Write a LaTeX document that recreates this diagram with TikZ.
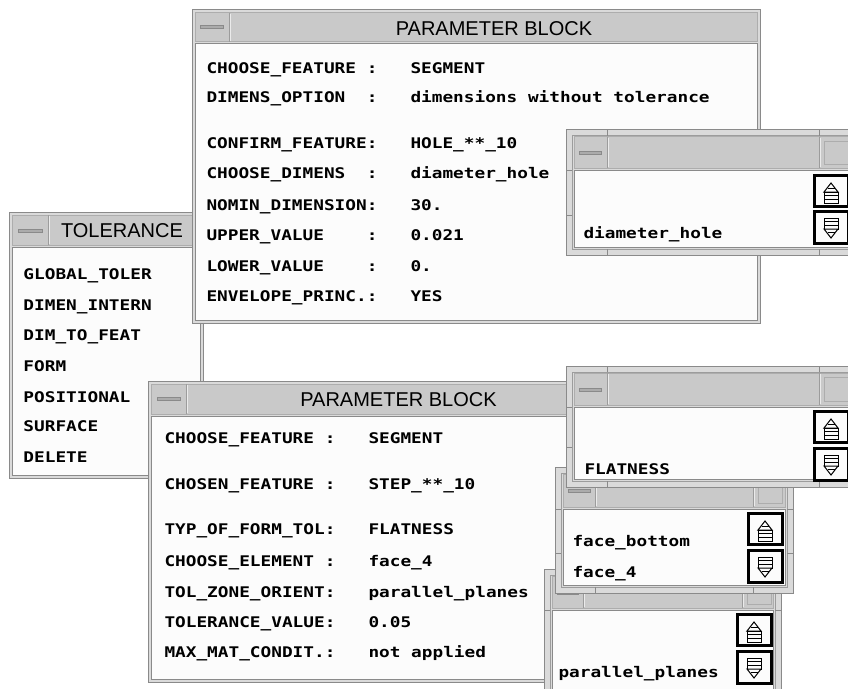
\documentclass[tikz,border=0pt]{standalone}
\usepackage{fontspec}
\setmainfont{Liberation Sans}
\newfontfamily\pixfont{DejaVu Sans Mono}[FakeStretch=1.21]

\definecolor{wingray}{RGB}{201,201,201}
\definecolor{winlight}{RGB}{218,218,218}
\definecolor{windark}{RGB}{138,138,138}
\definecolor{panewhite}{RGB}{252,252,252}

\tikzset{every picture/.style={line width=0.75pt}}
\tikzset{
  winframe/.style={draw=windark, fill=winlight},
  titlebar/.style={draw=windark!70, fill=wingray},
  pane/.style={draw=windark, fill=panewhite},
  bevel/.style={draw=windark!85},
  hilite/.style={draw=white!92!black},
  notch/.style={draw=windark},
  minbar/.style={draw=windark, fill=wingray!85!black},
  wintitle/.style={font=\fontsize{15}{18}\selectfont, text height=10.7pt, text depth=0pt, inner sep=0pt},
  pixtext/.style={font=\pixfont\bfseries\fontsize{11}{13}\selectfont, anchor=west, text height=8pt, text depth=0pt, inner sep=0pt},
  scrollbox/.style={draw=black, line width=2.25pt, fill=panewhite},
  glyph/.style={draw=black, fill=panewhite},
  % pics come out with y upwards, so the y values are negative
  scrollup/.pic={
    \draw[scrollbox] (1.5,-1.5) rectangle (35.5,-32.5);
    \draw[glyph] (11,-18) -- (18,-9) -- (25,-18) -- cycle;
    \draw[glyph] (11,-18) rectangle (25,-29);
    \draw[glyph] (14.5,-14.5) -- (21.5,-14.5) (11,-21.5) -- (25,-21.5) (11,-25) -- (25,-25);
  },
  scrolldown/.pic={
    \draw[scrollbox] (1.5,-1.5) rectangle (35.5,-33.5);
    \draw[glyph] (11,-8) rectangle (25,-19);
    \draw[glyph] (11,-19) -- (18,-28) -- (25,-19) -- cycle;
    \draw[glyph] (11,-11.5) -- (25,-11.5) (11,-15) -- (25,-15) (14.5,-22.5) -- (21.5,-22.5);
  }
}

\begin{document}
\begin{tikzpicture}[x=0.75pt,y=0.75pt,yscale=-1,xscale=1]
\useasboundingbox (0,0) rectangle (848,688);
\clip (0,0) rectangle (848,688);
\fill[white] (0,0) rectangle (848,688);

% Window: TOLERANCE
\draw[winframe] (9,212) rectangle (203,478);
\draw[titlebar] (12,215) rectangle (200,245);
\draw[pane] (12,247) rectangle (200,475);
\draw[bevel] (48,215) -- (48,245);
\draw[hilite] (49,216) -- (49,244);
\draw[minbar] (18,229) rectangle (42,232);
% Text Node
\node[wintitle] (toltitle) at (122,230.5) {TOLERANCE};
\node[pixtext] (tolglobal) at (23,274) {GLOBAL\_TOLER};
\node[pixtext] (toldimen) at (23,305) {DIMEN\_INTERN};
\node[pixtext] (toldimfeat) at (23,335) {DIM\_TO\_FEAT};
\node[pixtext] (tolform) at (23,366) {FORM};
\node[pixtext] (tolpos) at (23,397) {POSITIONAL};
\node[pixtext] (tolsurf) at (23,426) {SURFACE};
\node[pixtext] (toldel) at (23,457) {DELETE};

% Window: PARAMETER BLOCK (dimension)
\draw[winframe] (192,10) rectangle (760,323);
\draw[titlebar] (195,13) rectangle (757,42);
\draw[pane] (195,44) rectangle (757,320);
\draw[bevel] (229,13) -- (229,42);
\draw[hilite] (230,14) -- (230,41);
\draw[minbar] (200,26) rectangle (223,29);
% Text Node
\node[wintitle] (dimtitle) at (494,28.3) {PARAMETER BLOCK};
\node[pixtext] (dimfeat) at (206,68) {CHOOSE\_FEATURE :};
\node[pixtext] (dimopt) at (206,97) {DIMENS\_OPTION\ \ :};
\node[pixtext] (dimconf) at (206,143) {CONFIRM\_FEATURE:};
\node[pixtext] (dimchoose) at (206,173) {CHOOSE\_DIMENS\ \ :};
\node[pixtext] (dimnomin) at (206,205) {NOMIN\_DIMENSION:};
\node[pixtext] (dimupper) at (206,235) {UPPER\_VALUE\ \ \ \ :};
\node[pixtext] (dimlower) at (206,266) {LOWER\_VALUE\ \ \ \ :};
\node[pixtext] (dimenv) at (206,296) {ENVELOPE\_PRINC.:};
\node[pixtext] (dimfeatv) at (410,68) {SEGMENT};
\node[pixtext] (dimoptv) at (410,97) {dimensions without tolerance};
\node[pixtext] (dimconfv) at (410,143) {HOLE\_**\_10};
\node[pixtext] (dimchoosev) at (410,173) {diameter\_hole};
\node[pixtext] (dimnominv) at (410,205) {30.};
\node[pixtext] (dimupperv) at (410,235) {0.021};
\node[pixtext] (dimlowerv) at (410,266) {0.};
\node[pixtext] (dimenvv) at (410,296) {YES};

% Window: list diameter_hole
\draw[winframe] (566,130) rectangle (859,255);
\draw[bevel] (572,136) rectangle (853,249);
\draw[titlebar] (574,137) rectangle (851,168);
\draw[pane] (574,170) rectangle (851,247);
\draw[bevel] (607,137) -- (607,168) (819,137) -- (819,168);
\draw[hilite] (608,138) -- (608,167) (820,138) -- (820,167);
\draw[titlebar] (824,141) rectangle (848,164);
\draw[minbar] (579,151) rectangle (601,154);
\draw[notch] (607,130) -- (607,136) (607,249) -- (607,255) (819,130) -- (819,136) (819,249) -- (819,255) (566,170) -- (572,170) (566,215) -- (572,215);
% Text Node
\node[pixtext] (diamitem) at (583,233) {diameter\_hole};
\pic at (813,174) {scrollup};
\pic at (813,210) {scrolldown};

% Window: PARAMETER BLOCK (form)
\draw[winframe] (148,381) rectangle (613,682);
\draw[titlebar] (151,384) rectangle (610,414);
\draw[pane] (151,416) rectangle (610,679);
\draw[bevel] (186,384) -- (186,414);
\draw[hilite] (187,385) -- (187,413);
\draw[minbar] (157,397) rectangle (180,400);
% Text Node
\node[wintitle] (formtitle) at (398.5,399.5) {PARAMETER BLOCK};
\node[pixtext] (formfeat) at (164,438) {CHOOSE\_FEATURE :};
\node[pixtext] (formchosen) at (164,484) {CHOSEN\_FEATURE :};
\node[pixtext] (formtyp) at (164,529) {TYP\_OF\_FORM\_TOL:};
\node[pixtext] (formelem) at (164,561) {CHOOSE\_ELEMENT :};
\node[pixtext] (formzone) at (164,592) {TOL\_ZONE\_ORIENT:};
\node[pixtext] (formvalue) at (164,622) {TOLERANCE\_VALUE:};
\node[pixtext] (formmax) at (164,652) {MAX\_MAT\_CONDIT.:};
\node[pixtext] (formfeatv) at (368,438) {SEGMENT};
\node[pixtext] (formchosenv) at (368,484) {STEP\_**\_10};
\node[pixtext] (formtypv) at (368,529) {FLATNESS};
\node[pixtext] (formelemv) at (368,561) {face\_4};
\node[pixtext] (formzonev) at (368,592) {parallel\_planes};
\node[pixtext] (formvaluev) at (368,622) {0.05};
\node[pixtext] (formmaxv) at (368,652) {not applied};

% Window: list parallel_planes
\draw[winframe] (544,569) rectangle (781,700);
\draw[bevel] (550,575) rectangle (775,694);
\draw[titlebar] (552,576) rectangle (773,608);
\draw[pane] (552,610) rectangle (773,692);
\draw[bevel] (583,576) -- (583,608) (742,576) -- (742,608);
\draw[hilite] (584,577) -- (584,607) (743,577) -- (743,607);
\draw[titlebar] (747,580) rectangle (771,604);
\draw[minbar] (557,591) rectangle (578,594);
\draw[notch] (583,569) -- (583,575) (742,569) -- (742,575) (544,610) -- (550,610) (775,610) -- (781,610);
% Text Node
\node[pixtext] (paritem) at (558,672) {parallel\_planes};
\pic at (736,613) {scrollup};
\pic at (736,650) {scrolldown};

% Window: list face_bottom
\draw[winframe] (555,467) rectangle (793,593);
\draw[bevel] (561,473) rectangle (787,587);
\draw[titlebar] (563,474) rectangle (785,507);
\draw[pane] (563,509) rectangle (785,585);
\draw[bevel] (595,474) -- (595,507) (753,474) -- (753,507);
\draw[hilite] (596,475) -- (596,506) (754,475) -- (754,506);
\draw[titlebar] (758,478) rectangle (782,503);
\draw[minbar] (568,489) rectangle (590,492);
\draw[notch] (595,587) -- (595,593) (753,587) -- (753,593) (555,509) -- (561,509) (555,553) -- (561,553) (787,509) -- (793,509) (787,553) -- (793,553);
% Text Node
\node[pixtext] (faceitem) at (572,541) {face\_bottom};
\node[pixtext] (faceitemb) at (572,572) {face\_4};
\pic at (747,512) {scrollup};
\pic at (747,549) {scrolldown};

% Window: list FLATNESS
\draw[winframe] (566,366) rectangle (859,487);
\draw[bevel] (572,372) rectangle (853,481);
\draw[titlebar] (574,373) rectangle (851,405);
\draw[pane] (574,407) rectangle (851,479);
\draw[bevel] (607,373) -- (607,405) (819,373) -- (819,405);
\draw[hilite] (608,374) -- (608,404) (820,374) -- (820,404);
\draw[titlebar] (824,377) rectangle (848,401);
\draw[minbar] (579,388) rectangle (601,391);
\draw[notch] (607,366) -- (607,372) (607,481) -- (607,487) (819,366) -- (819,372) (819,481) -- (819,487) (566,407) -- (572,407) (566,447) -- (572,447);
% Text Node
\node[pixtext] (flatitem) at (584,469) {FLATNESS};
\pic at (813,410) {scrollup};
\pic at (813,447) {scrolldown};

\end{tikzpicture}
\end{document}
